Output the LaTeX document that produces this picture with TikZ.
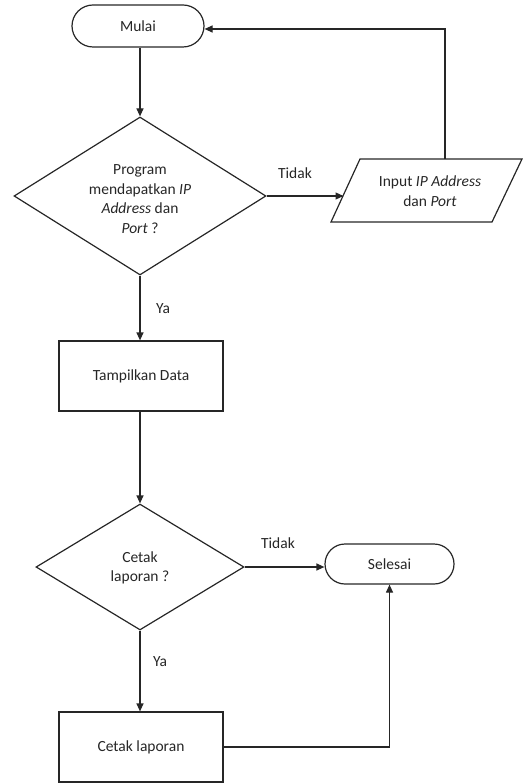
\documentclass[tikz,border=0pt]{standalone}
\usepackage{fontspec}
\setmainfont{Carlito}
\usetikzlibrary{arrows.meta,shapes.geometric,shapes.misc,calc}
\begin{document}
\begin{tikzpicture}[x=1pt,y=-1pt,
  font=\fontsize{15.5pt}{19.5pt}\selectfont,
  every node/.style={text=black!85},
  line/.style={draw=black!85,line width=1.2pt},
  arr/.style={line,-{Triangle[length=8pt,width=7pt]}},
  term/.style={line,rounded rectangle,minimum width=132pt,minimum height=42pt,inner sep=0pt},
  procbox/.style={line,rectangle,minimum width=164pt,minimum height=70pt,inner sep=0pt},
  decision/.style={line,diamond,inner sep=0pt},
  lbl/.style={inner sep=0pt}]
\useasboundingbox (0,0) rectangle (531,783);

% main column
\node[term] (start) at (138,26) {Mulai};
\node[decision,minimum width=252pt,minimum height=158pt] (d1) at (140,196) {};
\node[align=center,inner sep=0pt] (d1t) at (140,199) {Program\\mendapatkan \textit{IP}\\\textit{Address} dan\\\textit{Port} ?};
\node[procbox] (show) at (141,376) {Tampilkan Data};
\node[decision,minimum width=208pt,minimum height=126pt] (d2) at (140,567) {};
\node[align=center,inner sep=0pt] (d2t) at (140,568) {Cetak\\laporan ?};
\node[procbox] (print) at (141,747) {Cetak laporan};
\node[term,minimum width=129pt,minimum height=40pt] (stop) at (389.5,564) {Selesai};

% input/output parallelogram
\coordinate (pTL) at (360,159);
\coordinate (pTR) at (522,159);
\coordinate (pBR) at (492,222);
\coordinate (pBL) at (331,222);
\draw[line,line join=miter] (pTL) -- (pTR) -- (pBR) -- (pBL) -- cycle;
\node[align=center,inner sep=0pt] (inp) at (430,191) {Input \textit{IP Address}\\dan \textit{Port}};
\coordinate (inpIn) at (343.5,196);
\coordinate (inpTop) at (445,159);

% branch labels
\node[lbl] (t1) at (295,173) {Tidak};
\node[lbl] (y1) at (163,309) {Ya};
\node[lbl] (t2) at (278,543) {Tidak};
\node[lbl] (y2) at (160,662) {Ya};

% connectors
\coordinate (back) at (445,29);
\draw[arr] (start.south -| d1.north) -- (d1.north);
\draw[arr] (d1.east) -- (inpIn);
\draw[arr] (inpTop) -- (back) -- (back -| start.east);
\draw[arr] (d1.south) -- (show.north -| d1.south);
\draw[arr] (show.south -| d2.north) -- (d2.north);
\draw[arr] (d2.east) -- (d2.east -| stop.west);
\draw[arr] (d2.south) -- (print.north -| d2.south);
\draw[arr] (print.east) -- (print.east -| stop.south) -- (stop.south);
\end{tikzpicture}
\end{document}
